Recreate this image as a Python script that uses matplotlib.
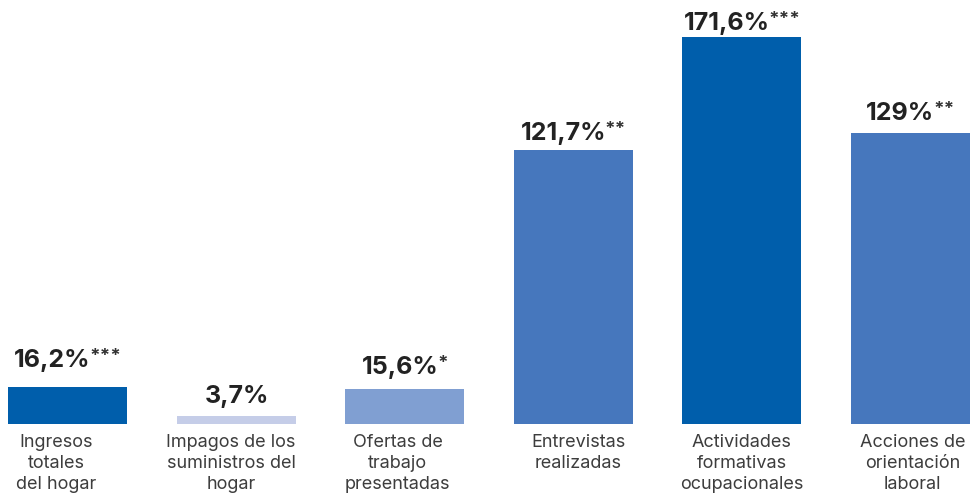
import matplotlib.pyplot as plt

categories = ["Ingresos\ntotales\ndel hogar",
              "Impagos de los\nsuministros del\nhogar",
              "Ofertas de\ntrabajo\npresentadas",
              "Entrevistas\nrealizadas",
              "Actividades\nformativas\nocupacionales",
              "Acciones de\norientación\nlaboral"]
values = [16.2, 3.7, 15.6, 121.7, 171.6, 129]
value_labels = ["16,2%", "3,7%", "15,6%", "121,7%", "171,6%", "129%"]
stars = ["***", "", "*", "**", "***", "**"]
colors = ["#005EAB", "#C5CDE8", "#809FD2", "#4677BD", "#005EAB", "#4677BD"]
label_dx = [-11, -5, -7, 5, 0, 2]  # pixel nudges of the category labels
label_gap = [20, 13, 15, 10, 7, 13]  # pixel gap between bar top and value baseline

plt.rcParams['font.family'] = ['Inter', 'DejaVu Sans']

fig = plt.figure(figsize=(9.73, 5.01), dpi=100)
ax = fig.add_axes([0, 0, 1, 1])
x = list(range(len(values)))
ax.bar(x, values, width=0.706, color=colors)

step = 168.6
ax.set_xlim(-67.5 / step, (973 - 67.5) / step)
ppu = 387 / 171.6
ax.set_ylim(-77 / ppu, 424 / ppu)
ax.axis('off')

for i, cat in enumerate(categories):
    ax.annotate(cat, (i, 0), xytext=(label_dx[i], -10), textcoords='offset pixels',
                ha='center', va='top', fontsize=13, color='#3d3d3d',
                linespacing=1.32)

fig.canvas.draw()
r = fig.canvas.get_renderer()
rise = 6
for i, v in enumerate(values):
    g = label_gap[i]
    main = ax.annotate(value_labels[i], (i, v), xytext=(0, g), textcoords='offset pixels',
                       ha='left', va='baseline', fontsize=18, fontweight='bold', color='#222222')
    star = ax.annotate(stars[i], (i, v), xytext=(0, g + rise), textcoords='offset pixels',
                       ha='left', va='baseline', fontsize=13.5, fontweight='bold', color='#333333')
    w1 = main.get_window_extent(r).width - 1
    w2 = star.get_window_extent(r).width if stars[i] else 0
    total = w1 + w2
    main.xyann = (-total / 2, g)
    star.xyann = (-total / 2 + w1, g + rise)

fig.savefig("out.png", dpi=100)
